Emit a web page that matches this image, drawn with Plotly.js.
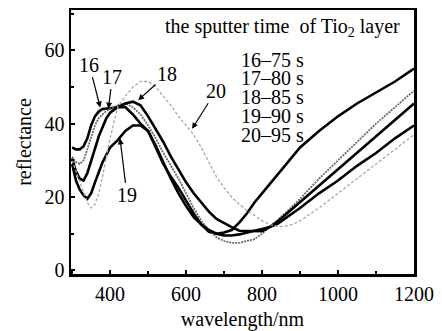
<!DOCTYPE html>
<html>
<head>
<meta charset="utf-8">
<script src="https://cdn.plot.ly/plotly-3.0.1.min.js"></script>
<style>html,body{margin:0;padding:0;background:#fff;}#chart{width:442px;height:331px;}</style>
</head>
<body>
<div id="chart"></div>
<script>
var wavelength = [300,310,320,330,340,350,360,370,380,390,400,420,440,460,480,500,520,540,560,580,600,620,640,660,680,700,720,740,760,780,800,820,840,860,880,900,950,1000,1050,1100,1150,1200];
var r16 = [33.5,33,33,33.8,36,39.5,42,43.3,44,44,44.2,44.5,44.5,42.5,40,38,33.5,29,25.5,22.5,19,15.5,12.5,10.5,10,10.3,11,13,15.5,18.5,21,23.5,26,28.5,31,33.5,38,42,45.5,48.5,51.5,55];
var r17 = [31,29.5,29,30,33,36.5,39.5,41.5,42.5,43.5,44,45,45.5,44.5,42.5,39.5,36,32,28.5,25,21,17,13.5,11,9,8,7.5,7.5,8,8.5,10,11.8,13.5,15.5,17.5,19.5,25,30,35,40,44.5,49];
var r18 = [30.5,27,25,24.5,26.5,30,33.5,36.5,39,41.5,43,44.5,45.5,46,45,42,38.5,35,31,27.5,24,21,18.5,16,14,12.8,11.8,10.8,10.7,10.7,10.7,11.8,13.2,15,16.8,18.5,23,27.5,32,36.5,41,45.5];
var r19 = [29,24.5,22,20.5,19.5,21,24,27,29.5,31.5,33.5,35.5,38,39.5,39.5,38,34,29.5,25,21,17.5,14.5,12.5,11,10,9.5,9.5,9.8,10.2,10.8,11.3,11.8,12.6,14,15.5,17,21,24.5,28.5,32,36,39.5];
var r20 = [30,27,24,21,18.5,17,18,21,25.5,31,36,44.5,47.5,50,51.5,51.5,50,47.5,45,42,39.5,37,33.5,29.5,25.5,22.5,20,18,16.3,15,13.5,12.5,12,12,12.5,13.5,17,21,25,29,33,37];

var xTicks = [400,600,800,1000,1200];
var yTicks = [0,20,40,60];
var legendLines = ["16\u201375 s","17\u201380 s","18\u201385 s","19\u201390 s","20\u201395 s"];
var curveLabels = ["16","17","18","19","20"];

var FONT = 'Liberation Serif, Times New Roman, DejaVu Serif, serif';

var traces = [
  {x: wavelength, y: r16, mode:'lines', line:{color:'#000', width:2.6}},
  {x: wavelength, y: r17, mode:'lines', line:{color:'#6a6a6a', width:1.8, dash:'2px,1px'}},
  {x: wavelength, y: r18, mode:'lines', line:{color:'#000', width:2.6}},
  {x: wavelength, y: r19, mode:'lines', line:{color:'#000', width:2.6}},
  {x: wavelength, y: r20, mode:'lines', line:{color:'#a8a8a8', width:1.3, dash:'3px,2px'}}
];

var ann = [];
ann.push({x:855, y:66.3, xref:'x', yref:'y', text:'the sputter time&nbsp;&nbsp;of Tio<sub>2</sub> layer', showarrow:false, font:{family:FONT, size:20, color:'#000'}});
var legY = [57.3,52.4,47.2,42,36.8];
for (var i=0;i<legendLines.length;i++){
  ann.push({x:739, y:legY[i], xref:'x', yref:'y', xanchor:'left', text:legendLines[i], showarrow:false, font:{family:FONT, size:20, color:'#000'}});
}
// arrow head point on the curve (data) and label offset (px)
var arrowHeads = [[374,44.4],[395.5,44.1],[473.7,46.4],[426,36],[615.8,38.6]];
var labelOffsets = [[-11,-43],[4,-32],[29,-26],[7,57],[24,-38]];
for (var k=0;k<curveLabels.length;k++){
  ann.push({x:arrowHeads[k][0], y:arrowHeads[k][1], xref:'x', yref:'y', text:curveLabels[k],
            showarrow:true, ax:labelOffsets[k][0], ay:labelOffsets[k][1],
            arrowhead:2, arrowsize:1, arrowwidth:1.2, arrowcolor:'#000', standoff:0,
            font:{family:FONT, size:20, color:'#000'}});
}

var layout = {
  width:442, height:331,
  margin:{l:71, r:28, t:10, b:57},
  paper_bgcolor:'#fff', plot_bgcolor:'#fff',
  showlegend:false,
  font:{family:FONT, size:20, color:'#000'},
  xaxis:{range:[297,1200], tickvals:xTicks, ticktext:xTicks.map(String), ticks:'inside', ticklen:4, tickwidth:2, tickcolor:'#000',
         minor:{dtick:100, tick0:0, ticks:'inside', ticklen:3, tickwidth:2, tickcolor:'#000'},
         showline:true, mirror:true, linewidth:2.5, linecolor:'#000', showgrid:false, zeroline:false,
         tickfont:{family:FONT, size:20, color:'#000'},
         title:{text:'wavelength/nm', font:{family:FONT, size:20, color:'#000'}, standoff:10}},
  yaxis:{range:[-1,71], tickvals:yTicks, ticktext:yTicks.map(String), ticks:'inside', ticklen:4, tickwidth:2, tickcolor:'#000',
         minor:{dtick:10, tick0:0, ticks:'inside', ticklen:3, tickwidth:2, tickcolor:'#000'},
         showline:true, mirror:true, linewidth:2.5, linecolor:'#000', showgrid:false, zeroline:false,
         tickfont:{family:FONT, size:20, color:'#000'},
         title:{text:'reflectance', font:{family:FONT, size:20, color:'#000'}, standoff:8}},
  annotations: ann
};
Plotly.newPlot('chart', traces, layout, {staticPlot:true, displayModeBar:false});
</script>
</body>
</html>
